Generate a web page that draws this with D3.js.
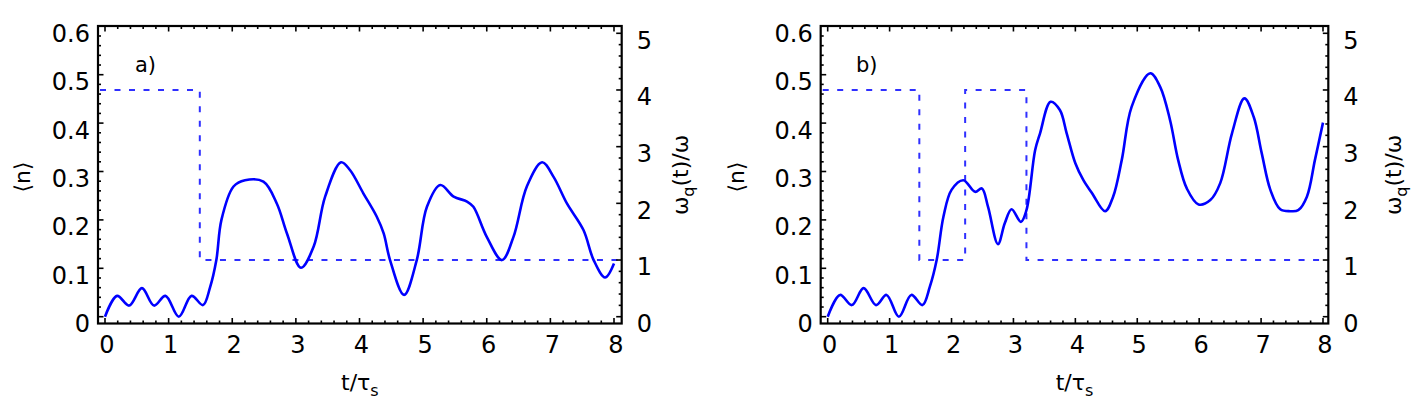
<!DOCTYPE html>
<html><head><meta charset="utf-8">
<script src="https://d3js.org/d3.v7.min.js"></script>
<style>
html,body{margin:0;padding:0;background:#fff;}
svg text{font-family:"DejaVu Sans","Liberation Sans",Arial,sans-serif;fill:#000;}
</style></head>
<body>
<svg id="chart" width="1423" height="411"></svg>
<script>
// ---- data ----
const tTicks = [0,1,2,3,4,5,6,7,8];
const nTicks = [0,0.1,0.2,0.3,0.4,0.5,0.6];
const nTickLabels = ["0","0.1","0.2","0.3","0.4","0.5","0.6"];
const wTicks = [0,1,2,3,4,5];
const wTickLabels = ["0","1","2","3","4","5"];

// panel a: <n>(t)
const tA = [0,0.19,0.38,0.58,0.77,0.95,1.16,1.36,1.54,1.65,1.75,1.83,2.02,2.2,2.49,2.7,2.86,3.08,3.28,3.46,3.71,3.85,4.06,4.27,4.38,4.48,4.7,4.9,5.06,5.27,5.48,5.69,5.79,6.0,6.24,6.42,6.63,6.87,7.05,7.26,7.52,7.68,7.86,8.0];
const nA = [0,0.043,0.023,0.059,0.023,0.043,0.0,0.043,0.024,0.06,0.117,0.2,0.269,0.282,0.279,0.234,0.172,0.101,0.145,0.248,0.319,0.303,0.255,0.207,0.172,0.117,0.045,0.117,0.227,0.272,0.248,0.238,0.227,0.165,0.117,0.165,0.269,0.319,0.289,0.234,0.179,0.117,0.081,0.11];
// panel a: omega_q(t)/omega step
const stepTA = [-0.1,1.49,8.1];
const stepWA = [4,1,1];

// panel b: <n>(t)
const tB = [0,0.2,0.39,0.58,0.78,0.95,1.15,1.35,1.53,1.65,1.76,1.87,2.0,2.19,2.38,2.49,2.59,2.75,2.86,2.97,3.12,3.21,3.35,3.43,3.6,3.75,3.86,4.0,4.13,4.27,4.48,4.61,4.75,4.91,5.21,5.37,5.53,5.66,5.8,5.99,6.18,6.34,6.53,6.73,6.88,7.01,7.15,7.31,7.47,7.6,7.74,7.87,8.0];
const nB = [0,0.045,0.024,0.059,0.024,0.045,0.0,0.045,0.024,0.062,0.117,0.207,0.262,0.282,0.258,0.265,0.227,0.15,0.193,0.222,0.196,0.22,0.344,0.379,0.444,0.427,0.379,0.317,0.282,0.255,0.218,0.248,0.324,0.434,0.503,0.475,0.406,0.324,0.265,0.232,0.241,0.276,0.379,0.451,0.413,0.338,0.262,0.222,0.218,0.22,0.248,0.324,0.401];
// panel b: omega_q(t)/omega step
const stepTB = [-0.1,1.48,2.22,3.21,8.1];
const stepWB = [4,1,4,1,1];

const panelLabels = ["a)","b)"];

// ---- drawing ----
const svg = d3.select("#chart");

function drawPanel(o){
  const g = svg.append("g");
  const x = d3.scaleLinear().domain([0,8]).range([o.x0,o.x8]);
  const y = d3.scaleLinear().domain([0,0.6]).range([316.7,26.3]);
  const w = d3.scaleLinear().domain([0,5]).range([316.7,33.3]);
  const fx0=o.fl, fx1=o.fr, fy0=26, fy1=323.5;
  const xmin = x.invert(fx0+2), xmax = x.invert(fx1-3);

  // step (dashed)
  const stepPts = o.stepT.map((t,i)=>[Math.max(xmin,Math.min(xmax,t)), o.stepW[i]]);
  g.append("path")
    .attr("d", d3.line().x(d=>x(d[0])).y(d=>w(d[1])).curve(d3.curveStepAfter)(stepPts))
    .attr("fill","none").attr("stroke","#2f2fff").attr("stroke-width",2)
    .attr("stroke-dasharray","6,8.5");

  // curve
  const pts = o.t.map((t,i)=>[t,o.n[i]]);
  g.append("path")
    .attr("d", d3.line().x(d=>x(d[0])).y(d=>y(d[1])).curve(d3.curveCatmullRom.alpha(0.5))(pts))
    .attr("fill","none").attr("stroke","#0000ff").attr("stroke-width",2.6)
    .attr("stroke-linejoin","round");

  // ticks
  const tk = g.append("g").attr("stroke","#000").attr("stroke-width",1.6);
  for(let i=0;i<=40;i++){
    const t=i*0.2; const px=x(t);
    if(px<fx0+1||px>fx1-1) continue;
    const L = (i%5===0)?5.5:3;
    tk.append("line").attr("x1",px).attr("x2",px).attr("y1",fy1).attr("y2",fy1-L);
    tk.append("line").attr("x1",px).attr("x2",px).attr("y1",fy0).attr("y2",fy0+L);
  }
  for(let i=0;i<=30;i++){
    const v=i*0.02; const py=y(v);
    if(py<fy0+1||py>fy1-1) continue;
    const L=(i%5===0)?5.5:3;
    tk.append("line").attr("x1",fx0).attr("x2",fx0+L).attr("y1",py).attr("y2",py);
  }
  for(let i=0;i<=25;i++){
    const v=i*0.2; const py=w(v);
    if(py<fy0+1||py>fy1-1) continue;
    const L=(i%5===0)?5.5:3;
    tk.append("line").attr("x1",fx1).attr("x2",fx1-L).attr("y1",py).attr("y2",py);
  }

  // frame
  g.append("rect").attr("x",fx0).attr("y",fy0).attr("width",fx1-fx0).attr("height",fy1-fy0)
    .attr("fill","none").attr("stroke","#000").attr("stroke-width",2.2);

  // tick labels
  const fs=24;
  g.selectAll(".xl").data(tTicks).enter().append("text")
    .attr("x",d=>x(d)+2).attr("y",353).attr("text-anchor","middle")
    .attr("font-size",fs).text(d=>d);
  g.selectAll(".yl").data(nTicks).enter().append("text")
    .attr("x",fx0-8).attr("y",d=>y(d)+15.4).attr("text-anchor","end")
    .attr("font-size",fs).text((d,i)=>nTickLabels[i]);
  g.selectAll(".wl").data(wTicks).enter().append("text")
    .attr("x",fx1+15).attr("y",d=>w(d)+15.2).attr("text-anchor","start")
    .attr("font-size",fs).text((d,i)=>wTickLabels[i]);

  // axis titles
  const xt = g.append("text").attr("x",(fx0+fx1)/2).attr("y",390).attr("text-anchor","middle").attr("font-size",22);
  xt.append("tspan").text("t/τ");
  xt.append("tspan").attr("font-size",16).attr("dy",6).text("s");

  const nl = g.append("text").attr("transform",`translate(${o.ylx},177) rotate(-90)`)
    .attr("text-anchor","middle").attr("font-size",22);
  nl.append("tspan").text("\u27E8");
  nl.append("tspan").text("n");
  nl.append("tspan").text("\u27E9");

  const rt = g.append("text").attr("transform",`translate(${o.wlx},175) rotate(-90)`)
    .attr("text-anchor","middle").attr("font-size",22);
  rt.append("tspan").text("ω");
  rt.append("tspan").attr("font-size",16).attr("dy",6).text("q");
  rt.append("tspan").attr("dy",-6).text("(t)/ω");

  g.append("text").attr("x",o.lblx).attr("y",71.5).attr("font-size",21).text(o.label);
}

drawPanel({x0:105, x8:614, fl:98, fr:621.7, t:tA, n:nA, stepT:stepTA, stepW:stepWA, ylx:30, wlx:688, lblx:135, label:panelLabels[0]});
drawPanel({x0:827.7, x8:1323, fl:820.7, fr:1328.3, t:tB, n:nB, stepT:stepTB, stepW:stepWB, ylx:744, wlx:1401, lblx:856, label:panelLabels[1]});
</script>
</body></html>
